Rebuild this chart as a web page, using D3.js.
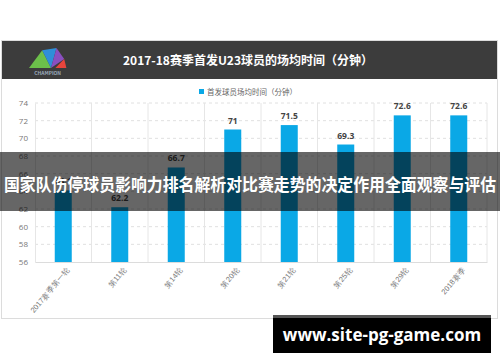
<!DOCTYPE html>
<html>
<head>
<meta charset="utf-8">
<script src="https://cdn.jsdelivr.net/npm/d3@7"></script>
<style>
  body { margin: 0; background: #fff; }
  svg { display: block; font-family: "Noto Sans CJK SC", "Noto Sans", sans-serif; }
</style>
</head>
<body>
<div id="chart"></div>
<script>
var rounds = ["2017赛季第一轮", "第11轮", "第14轮", "第20轮", "第21轮", "第25轮", "第29轮", "2018赛季"];
var minutes = [64.1, 62.2, 66.7, 71, 71.5, 69.3, 72.6, 72.6];
var yTicks = [56, 58, 60, 62, 64, 66, 68, 70, 72, 74];

var title = "2017-18赛季首发U23球员的场均时间（分钟）";
var seriesName = "首发球员场均时间（分钟）";
var banner = "国家队伤停球员影响力排名解析对比赛走势的决定作用全面观察与评估";
var site = "www.site-pg-game.com";

var width = 500, height = 362;

var svg = d3.select("#chart").append("svg")
	.attr("width", width)
	.attr("height", height);

// outer frame
svg.append("rect")
	.attr("x", 1.5).attr("y", 40.5)
	.attr("width", 496).attr("height", 278)
	.attr("fill", "#fff")
	.attr("stroke", "#dcdcdc");

// header band
svg.append("rect")
	.attr("x", 2).attr("y", 41)
	.attr("width", 495).attr("height", 38)
	.attr("fill", "#3c3c3c");

svg.append("text")
	.attr("x", 248).attr("y", 65)
	.attr("text-anchor", "middle")
	.attr("fill", "#fff")
	.attr("font-size", 12)
	.attr("font-weight", "bold")
	.text(title);

// logo
var logo = svg.append("g").attr("transform", "translate(29,47) scale(1.1)");
logo.append("polygon").attr("points", "0,19 12,3 20,19").attr("fill", "#6cc04a");
logo.append("polygon").attr("points", "12,3 25,1 20,19").attr("fill", "#2f8fd8");
logo.append("polygon").attr("points", "20,19 25,1 32,11").attr("fill", "#8a4fc0");
logo.append("polygon").attr("points", "24,19 32,11 34,19").attr("fill", "#e8453c");
logo.append("text")
	.attr("x", 17).attr("y", 25)
	.attr("text-anchor", "middle")
	.attr("fill", "#9ab")
	.attr("font-size", 4.5)
	.attr("font-weight", "bold")
	.text("CHAMPION");

// legend
svg.append("rect")
	.attr("x", 199).attr("y", 89)
	.attr("width", 5).attr("height", 5)
	.attr("fill", "#0aa8e6");
svg.append("text")
	.attr("x", 207).attr("y", 94.5)
	.attr("fill", "#666")
	.attr("font-size", 7.5)
	.text(seriesName);

var margin = {left: 35, right: 13, top: 103, bottom: 100};

var xScale = d3.scaleBand()
	.domain(rounds)
	.range([margin.left, width - margin.right]);

var yScale = d3.scaleLinear()
	.domain([56, 74])
	.range([height - margin.bottom, margin.top]);

// horizontal dashed grid
svg.append("g")
	.selectAll("line")
	.data(yTicks.slice(1))
	.enter()
	.append("line")
	.attr("x1", margin.left)
	.attr("x2", width - margin.right)
	.attr("y1", function(d) { return yScale(d); })
	.attr("y2", function(d) { return yScale(d); })
	.attr("stroke", "#e0e0e0")
	.attr("stroke-dasharray", "3,3");

// vertical category separators
svg.append("g")
	.selectAll("line")
	.data(rounds)
	.enter()
	.append("line")
	.attr("x1", function(d) { return xScale(d) + xScale.bandwidth(); })
	.attr("x2", function(d) { return xScale(d) + xScale.bandwidth(); })
	.attr("y1", yScale(74))
	.attr("y2", yScale(56))
	.attr("stroke", "#e6e6e6");

var yAxis = d3.axisLeft(yScale).tickValues(yTicks).tickSize(0).tickPadding(7);
var yAxisHandle = svg.append("g")
	.attr("transform", "translate(" + margin.left + ",0)")
	.call(yAxis);
yAxisHandle.select(".domain").attr("stroke", "#e6e6e6");
yAxisHandle.selectAll("text").attr("fill", "#777").attr("font-size", 8).attr("font-family", "Open Sans, sans-serif");

var xAxis = d3.axisBottom(xScale).tickSize(0).tickPadding(6);
var xAxisHandle = svg.append("g")
	.attr("transform", "translate(0," + yScale(56) + ")")
	.call(xAxis);
xAxisHandle.select(".domain").attr("stroke", "#dcdcdc");
xAxisHandle.selectAll("text")
	.attr("fill", "#777")
	.attr("font-size", 7.5)
	.attr("text-anchor", "end")
	.attr("dx", "-0.2em")
	.attr("dy", "0.6em")
	.attr("transform", "rotate(-50)");

var barWidth = 17;

svg.append("g")
	.selectAll("rect")
	.data(minutes)
	.enter()
	.append("rect")
	.attr("x", function(d, i) { return xScale(rounds[i]) + xScale.bandwidth() / 2 - barWidth / 2; })
	.attr("y", function(d) { return yScale(d); })
	.attr("width", barWidth)
	.attr("height", function(d) { return yScale(56) - yScale(d); })
	.attr("fill", "#0aa8e6");

svg.append("g")
	.selectAll("text")
	.data(minutes)
	.enter()
	.append("text")
	.attr("x", function(d, i) { return xScale(rounds[i]) + xScale.bandwidth() / 2; })
	.attr("y", function(d) { return yScale(d) - 6; })
	.attr("text-anchor", "middle")
	.attr("fill", "#444")
	.attr("font-size", 8.5)
	.attr("font-weight", "bold")
	.attr("font-family", "Open Sans, sans-serif")
	.text(function(d) { return d; });

// dark banner over the middle
svg.append("rect")
	.attr("x", 0).attr("y", 152)
	.attr("width", width).attr("height", 59)
	.attr("fill", "rgba(0,0,0,0.6)");

svg.append("text")
	.attr("x", 250).attr("y", 191)
	.attr("text-anchor", "middle")
	.attr("fill", "#fff")
	.attr("font-size", 17.5)
	.attr("font-weight", "bold")
	.attr("textLength", 492)
	.attr("lengthAdjust", "spacingAndGlyphs")
	.text(banner);

// site watermark
svg.append("rect")
	.attr("x", 273).attr("y", 315)
	.attr("width", 218).attr("height", 38)
	.attr("fill", "#000");
svg.append("rect")
	.attr("x", 273).attr("y", 315)
	.attr("width", 218).attr("height", 3)
	.attr("fill", "#555");
svg.append("text")
	.attr("x", 382).attr("y", 341)
	.attr("text-anchor", "middle")
	.attr("fill", "#fff")
	.attr("font-size", 17)
	.attr("font-weight", "bold")
	.attr("font-family", "Open Sans, sans-serif")
	.text(site);
</script>
</body>
</html>
